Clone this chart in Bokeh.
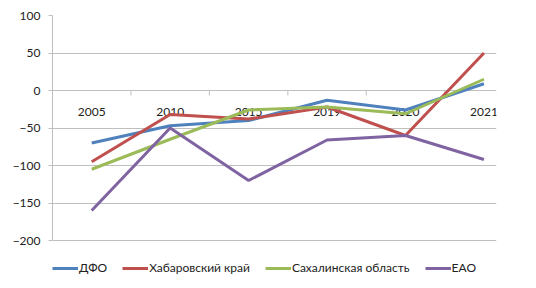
from bokeh.plotting import figure
from bokeh.models import Range1d, FixedTicker, Legend, LegendItem
from bokeh.core.properties import value
from bokeh.embed import file_html
from bokeh.resources import INLINE

years = ["2005", "2010", "2015", "2019", "2020", "2021"]
dfo = [-70, -47, -40, -13, -26, 9]
khab = [-95, -32, -38, -22, -60, 50]
sakh = [-105, -65, -26, -22, -31, 15]
eao = [-160, -50, -120, -66, -60, -92]

names = ["ДФО", "Хабаровский край", "Сахалинская область", "ЕАО"]
series = [dfo, khab, sakh, eao]
colors = ["#4F81BD", "#C0504D", "#9BBB59", "#8064A2"]

FONT = "Lato"
GRID = "#BFBFBF"
Y_MIN, Y_MAX = -200, 100

xs = list(range(len(years)))

# the frame runs to the bottom of the page so the legend can sit inside it
px_per_unit = 225 / 300.0
y_low = Y_MIN - 48 / px_per_unit

p = figure(width=536, height=288, output_backend="svg", toolbar_location=None,
           x_range=Range1d(-0.5, 5.16), y_range=Range1d(y_low, Y_MAX),
           min_border_left=52, min_border_right=40, min_border_top=15, min_border_bottom=0)
p.outline_line_color = None
p.background_fill_color = "white"
p.border_fill_color = "white"

p.xaxis.visible = False
p.xgrid.visible = False

p.yaxis.ticker = FixedTicker(ticks=[-200, -150, -100, -50, 0, 50, 100])
p.yaxis.bounds = (Y_MIN, Y_MAX)
p.yaxis.major_label_text_font = FONT
p.yaxis.major_label_text_font_size = "12px"
p.yaxis.major_label_text_color = "#222222"
p.yaxis.axis_line_color = GRID
p.yaxis.major_tick_line_color = GRID
p.yaxis.major_tick_out = 4
p.yaxis.major_tick_in = 0
p.yaxis.minor_tick_line_color = None
p.yaxis.major_label_standoff = 8
p.ygrid.grid_line_color = GRID
p.ygrid.grid_line_width = 1

# category tick marks on the zero line
tick_x = [i + 0.5 for i in range(len(years) - 1)]
p.segment(x0=tick_x, x1=tick_x, y0=[0] * len(tick_x), y1=[-5 / px_per_unit] * len(tick_x),
          line_color=GRID, line_width=1)

# category labels
p.text(x=xs, y=[0] * len(years), text=years, text_font=value(FONT), text_font_size="12px",
       text_align="center", text_baseline="middle", y_offset=21, text_color="#222222")

items = []
for name, vals, c in zip(names, series, colors):
    r = p.line(xs, vals, line_color=c, line_width=3)
    items.append(LegendItem(label=name, renderers=[r]))

legend = Legend(items=items, orientation="horizontal", location=(0, 13),
                glyph_width=26, glyph_height=14, label_height=14, label_standoff=1, spacing=15,
                padding=0, margin=0, border_line_color=None, background_fill_alpha=0,
                label_text_font=FONT, label_text_font_size="12px", label_text_color="#222222")
p.add_layout(legend, "center")

open("out.html", "w").write(file_html(p, INLINE))
